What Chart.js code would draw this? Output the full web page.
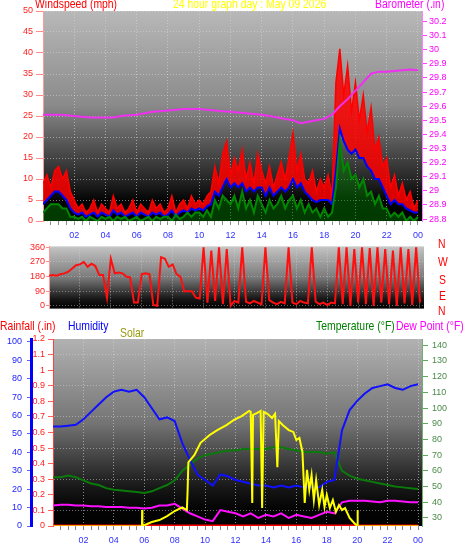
<!DOCTYPE html>
<html>
<head>
<meta charset="utf-8">
<script src="https://cdn.jsdelivr.net/npm/chart.js@4.4.1/dist/chart.umd.min.js"></script>
<style>
body { margin:0; background:#fff; width:470px; height:554px; overflow:hidden; position:relative; font-family:'Liberation Sans',Arial,sans-serif; }
canvas { position:absolute; left:0; }
.t { position:absolute; font-size:13px; white-space:nowrap; line-height:13px; transform:scaleX(0.8); transform-origin:left top; }
</style>
</head>
<body>
<canvas id="wind" width="470" height="245" style="top:0"></canvas>
<canvas id="dir" width="470" height="75" style="top:240px"></canvas>
<canvas id="temp" width="470" height="234" style="top:320px"></canvas>

<div class="t" style="left:35px;top:-3px;color:#ff0000">Windspeed (mph)</div>
<div class="t" style="left:173px;top:-3px;color:#ffff00">24 hour graph day : May 09 2026</div>
<div class="t" style="left:375px;top:-3px;color:#ff00ff">Barometer (.in)</div>

<div class="t" style="left:438px;top:237px;color:#ff0000">N</div>
<div class="t" style="left:438px;top:255px;color:#ff0000">W</div>
<div class="t" style="left:439px;top:273px;color:#ff0000">S</div>
<div class="t" style="left:439px;top:289px;color:#ff0000">E</div>
<div class="t" style="left:438px;top:304px;color:#ff0000">N</div>

<div class="t" style="left:0px;top:319px;color:#ff0000">Rainfall (.in)</div>
<div class="t" style="left:68px;top:319px;color:#0000ff">Humidity</div>
<div class="t" style="left:120px;top:326px;color:#9a9a10">Solar</div>
<div class="t" style="left:316px;top:319px;color:#008000">Temperature (°F)</div>
<div class="t" style="left:396px;top:319px;color:#ff00ff">Dew Point (°F)</div>

<script>
// ---- wind, every 15 minutes from 00:00 to 24:00 ----
const windGust = [
  9, 11, 8, 12,   13, 10, 12, 7,   5, 3, 4, 2,   3, 5, 2, 4,
  3, 2, 6, 3,     4, 2, 3, 5,      2, 4, 3, 2,   5, 3, 4, 2,
  3, 6, 2, 4,     5, 3, 6, 4,      5, 4, 6, 7,   13, 9, 16, 19,
  11, 15, 12, 17, 10, 14, 9, 16,   12, 9, 13, 8, 11, 14, 10, 15,
  21, 12, 16, 10, 9, 12, 7, 10,    8, 11, 6, 33, 41, 30, 37, 26,
  33, 24, 30, 21, 27, 17, 20, 13,  15, 8, 11, 6, 9, 5, 7, 3,
  5
];
const windAvg = [
  4, 5, 6, 7,       7, 6, 5, 3,       2, 1.5, 2, 1,     1.5, 2, 1, 2,
  1.5, 1, 2.5, 1.5, 2, 1, 1.5, 2,     1, 2, 1.5, 1,     2, 1.5, 2, 1,
  1.5, 2.5, 1, 2,   2.5, 2, 3, 2.5,   3, 2.5, 3.5, 4,   7, 6, 8, 10,
  8, 9, 8, 9,       7, 8, 7, 8,       8, 6, 8, 6,       7, 8, 7, 8,
  10, 8, 9, 7,      6, 5, 4.5, 5,     5, 5, 4, 12,      22, 19, 17, 16,
  17, 15, 15, 13,   12, 10, 10, 8,    6, 4, 5, 4,       4, 3, 2.5, 2,
  2
];
const windLow = [
  2, 3, 4, 4,       4, 3, 3, 1,       1, 0.5, 1, 0,     1, 0.5, 0, 1,
  0.5, 1, 0, 1,     0.5, 1, 0, 0.5,   1, 0, 0.5, 1,     0, 1, 0.5, 1,
  1, 0, 1.5, 0.5,   1, 2, 1, 2,       2, 1, 2.5, 1,     5, 3, 6, 5,
  4, 6, 3, 7,       3, 5, 2, 6,       4, 2, 5, 3,       4, 6, 3, 5,
  6, 3, 5, 2,       4, 2, 3, 1,       3, 1, 2, 8,       19, 12, 14, 10,
  11, 8, 10, 6,     7, 4, 6, 3,       3, 1, 2, 1,       2, 0, 1, 0,
  1
];
const windDir = [
  185, 190, 185, 195,  200, 210, 230, 250,  255, 270, 240, 260,  245, 190, 190, 50,
  290, 200, 205, 200,  180, 175, 20, 20,    195, 200, 195, 5,    0, 300, 290, 240,
  255, 195, 180, 90,   90, 90, 50, 45,      360, 20, 340, 30,    360, 10, 350, 0,
  30, 20, 360, 25,     15, 30, 20, 10,      360, 35, 20, 10,     25, 15, 360, 20,
  10, 30, 20, 15,      360, 25, 10, 20,     5, 20, 15, 360,      10, 360, 0, 350,
  20, 360, 10, 355,    0, 360, 20, 350,     10, 340, 0, 360,     15, 350, 5, 360,
  20
];

// ---- every 30 minutes from 00:00 to 24:00 ----
const barometer = [
  29.54, 29.54, 29.54, 29.535, 29.53, 29.525, 29.52, 29.52, 29.52, 29.52,
  29.53, 29.535, 29.54, 29.55, 29.56, 29.565, 29.57, 29.575, 29.58, 29.58,
  29.58, 29.575, 29.57, 29.565, 29.56, 29.555, 29.55, 29.545, 29.54, 29.53,
  29.52, 29.51, 29.50, 29.48, 29.49, 29.50, 29.51, 29.54, 29.60, 29.65,
  29.71, 29.77, 29.83, 29.845, 29.845, 29.85, 29.855, 29.86, 29.855
];
const humidity = [
  54, 54, 54.5, 55, 58, 62, 66, 70, 73, 74,
  73, 74, 70, 64, 58, 59, 57, 45, 36, 28,
  25, 22, 28, 27, 25, 24, 23, 22, 22, 21,
  22, 21, 22, 21, 21, 21, 24, 25, 52, 63,
  68, 72, 75, 76, 77, 75, 74, 76, 77
];
const temperature = [
  56, 56, 57, 56, 54, 52, 51, 49, 48, 47.5,
  47, 46.5, 46, 47, 49, 51, 54, 60, 64, 68,
  70, 71, 72, 73, 73, 74, 74, 74, 74, 75,
  75, 74, 73, 72, 72, 72, 71, 72, 60, 57,
  55, 54, 53, 52, 51, 50, 49.5, 49, 48.5
];
const dewPoint = [
  38, 38.5, 38.5, 38, 38, 37.5, 37.5, 37, 37, 37,
  36.5, 36.5, 36, 36.5, 38, 38, 39, 36, 33, 31,
  29, 28, 35, 34, 33, 31, 33, 30, 32, 31,
  33, 30, 32, 31, 30, 32, 34, 33, 40, 41,
  41, 41, 40.5, 40, 41, 41, 40.5, 40, 40
];
const rainfall = [
  0, 0, 0, 0, 0, 0, 0, 0, 0, 0, 0, 0, 0, 0, 0, 0, 0, 0, 0, 0, 0, 0, 0, 0, 0,
  0, 0, 0, 0, 0, 0, 0, 0, 0, 0, 0, 0, 0, 0, 0, 0, 0, 0, 0, 0, 0, 0, 0, 0
];

// solar radiation (W/m2) at irregular times
const solarTimes = [
  0, 5.85, 5.86, 5.88, 6.5, 7, 7.5, 8, 8.5, 8.8, 8.85, 8.9, 9.3, 9.7, 10.3, 10.8,
  11.4, 11.9, 12.4, 12.9, 13.0, 13.1, 13.15, 13.4, 13.65, 13.75, 13.85, 14.1, 14.4,
  14.6, 14.75, 14.85, 15.1, 15.5, 15.8, 16.0, 16.2, 16.4, 16.55, 16.7, 16.85, 17.0,
  17.15, 17.3, 17.5, 17.7, 17.85, 18.0, 18.2, 18.4, 18.6, 18.8, 19.0, 19.2, 19.5,
  19.8, 20.0, 20.02, 20.04, 24
];
const solar = [
  0, 0, 85, 0, 21, 32, 53, 80, 100, 85, 190, 340, 380, 445, 487, 513,
  540, 567, 588, 615, 610, 123, 594, 604, 615, 96, 610, 600, 578,
  600, 315, 561, 540, 513, 503, 460, 471, 396, 123, 300, 193, 273,
  139, 246, 112, 193, 102, 166, 96, 139, 75, 112, 85, 96, 43,
  16, 0, 85, 0, 0
];

const windTicks = [0, 5, 10, 15, 20, 25, 30, 35, 40, 45, 50];
const baroTicks = [28.8, 28.9, 29, 29.1, 29.2, 29.3, 29.4, 29.5, 29.6, 29.7, 29.8, 29.9, 30, 30.1, 30.2];
const dirTicks = [0, 90, 180, 270, 360];
const humTicks = [0, 10, 20, 30, 40, 50, 60, 70, 80, 90, 100];
const rainTicks = [0, 0.1, 0.2, 0.3, 0.4, 0.5, 0.6, 0.7, 0.8, 0.9, 1, 1.1, 1.2];
const tempTicks = [30, 40, 50, 60, 70, 80, 90, 100, 110, 120, 130, 140];

const t15 = windGust.map((_, i) => i / 4);
const t30 = barometer.map((_, i) => i / 2);
const hourTicks = Array.from({length: 48}, (_, i) => (i + 1) / 2);
const xy = (xs, ys) => ys.map((v, i) => ({x: xs[i], y: v}));
const fmt = v => String(Number(v.toFixed(1)));
const tickFont = {family: "'Liberation Sans',Arial", size: 9};
const fixTicks = list => s => { s.ticks = list.map(v => ({value: v})); };

const bgPlugin = {
  id: 'bg',
  beforeDraw(chart, args, opts) {
    const {ctx, chartArea: a} = chart;
    const g = ctx.createLinearGradient(0, a.top, 0, a.bottom);
    opts.stops.forEach(s => g.addColorStop(s[0], s[1]));
    ctx.save();
    ctx.fillStyle = g;
    ctx.fillRect(a.left, a.top, a.right - a.left, a.bottom - a.top);
    ctx.restore();
  }
};

function hourAxis(showLabels, height) {
  return {
    type: 'linear', min: 0, max: 24.26,
    afterBuildTicks: fixTicks(hourTicks),
    afterFit: s => { s.height = height; },
    grid: {
      color: c => (c.tick && c.tick.value % 2 === 0) ? 'rgba(215,215,215,0.6)' : 'rgba(0,0,0,0)',
      tickColor: '#8c8c8c', tickLength: 4, drawTicks: showLabels
    },
    border: {display: false, dash: [1, 2]},
    ticks: {
      display: showLabels, autoSkip: false, maxRotation: 0, padding: 5,
      color: '#3030ff', font: tickFont,
      callback: v => v % 2 === 0 ? String(v % 24).padStart(2, '0') : ''
    }
  };
}

const common = {
  responsive: false,
  animation: false,
  elements: {point: {radius: 0}, line: {tension: 0, borderJoinStyle: 'miter'}},
  plugins: {legend: {display: false}, tooltip: {enabled: false}}
};

// windspeed + barometer
new Chart(document.getElementById('wind'), {
  type: 'line',
  data: {
    datasets: [
      {label: 'Barometer', data: xy(t30, barometer), yAxisID: 'baro', borderColor: '#f030f0', borderWidth: 2},
      {label: 'Wind low', data: xy(t15, windLow), yAxisID: 'y', borderColor: '#008800', borderWidth: 2,
        fill: 'origin', backgroundColor: 'rgba(0,128,0,0.45)'},
      {label: 'Wind avg', data: xy(t15, windAvg), yAxisID: 'y', borderColor: '#0000ff', borderWidth: 2},
      {label: 'Wind gust', data: xy(t15, windGust), yAxisID: 'y', borderColor: '#ff0000', borderWidth: 1.5,
        fill: 2, backgroundColor: 'rgba(255,0,0,0.85)'}
    ]
  },
  options: {
    ...common,
    layout: {padding: {top: 11, left: 0, right: 0, bottom: 0}},
    plugins: {...common.plugins, bg: {stops: [[0, '#b8b8b8'], [0.45, '#8a8a8a'], [0.8, '#262626'], [0.9, '#050505'], [1, '#000']]}},
    scales: {
      x: hourAxis(true, 24),
      y: {
        position: 'left', min: 0, max: 50,
        afterBuildTicks: fixTicks(windTicks),
        afterFit: s => { s.width = 43; },
        grid: {color: 'rgba(215,215,215,0.55)', tickColor: '#ff8c8c', tickLength: 7},
        border: {display: true, color: '#ff9a9a', width: 1, dash: [1, 2]},
        ticks: {color: '#ff2020', font: tickFont, padding: 3}
      },
      baro: {
        position: 'right', min: 28.786, max: 30.275,
        afterBuildTicks: fixTicks(baroTicks),
        afterFit: s => { s.width = 48; },
        grid: {drawOnChartArea: false, tickColor: '#ff40ff', tickLength: 5},
        border: {display: true, color: '#ff80ff', width: 1},
        ticks: {color: '#ff00ff', font: tickFont, padding: 2, callback: v => fmt(v)}
      }
    }
  },
  plugins: [bgPlugin]
});

// wind direction
new Chart(document.getElementById('dir'), {
  type: 'line',
  data: {
    datasets: [
      {label: 'Direction', data: xy(t15, windDir), yAxisID: 'y', borderColor: '#ff1010', borderWidth: 2}
    ]
  },
  options: {
    ...common,
    layout: {padding: {top: 6, left: 0, right: 0, bottom: 2}},
    plugins: {...common.plugins, bg: {stops: [[0, '#c4c4c4'], [0.5, '#7a7a7a'], [0.85, '#151515'], [1, '#000']]}},
    scales: {
      x: hourAxis(false, 0),
      y: {
        position: 'left', min: -17, max: 366,
        afterBuildTicks: fixTicks(dirTicks),
        afterFit: s => { s.width = 49; },
        grid: {color: 'rgba(215,215,215,0.45)', tickColor: '#ff8c8c', tickLength: 3},
        border: {display: true, color: '#ff9a9a', width: 1, dash: [1, 2]},
        ticks: {color: '#ff2020', font: tickFont, padding: 1}
      },
      r: {
        position: 'right', min: -17, max: 366,
        afterFit: s => { s.width = 46; },
        grid: {display: false},
        border: {display: false},
        ticks: {display: false}
      }
    }
  },
  plugins: [bgPlugin]
});

// rainfall, humidity, solar, temperature, dew point
new Chart(document.getElementById('temp'), {
  type: 'line',
  data: {
    datasets: [
      {
        label: 'Solar', data: xy(solarTimes, solar), yAxisID: 'sol', borderColor: '#ffff00', borderWidth: 2,
        segment: {borderColor: c => (c.p0.parsed.y === 0 && c.p1.parsed.y === 0) ? '#ff9c00' : undefined}
      },
      {label: 'Humidity', data: xy(t30, humidity), yAxisID: 'hum', borderColor: '#1010ff', borderWidth: 2},
      {label: 'Temperature', data: xy(t30, temperature), yAxisID: 'temp', borderColor: '#0a7a0a', borderWidth: 2},
      {label: 'Dew Point', data: xy(t30, dewPoint), yAxisID: 'temp', borderColor: '#ff10ff', borderWidth: 2},
      {label: 'Rainfall', data: xy(t30, rainfall), yAxisID: 'rain', borderColor: '#ff0000', borderWidth: 3}
    ]
  },
  options: {
    ...common,
    layout: {padding: {top: 19, left: 0, right: 0, bottom: 0}},
    plugins: {...common.plugins, bg: {stops: [[0, '#b2b2b2'], [0.45, '#747474'], [0.8, '#161616'], [0.9, '#050505'], [1, '#000']]}},
    scales: {
      x: hourAxis(true, 28),
      hum: {
        position: 'left', weight: 1, min: 0, max: 101.6,
        afterBuildTicks: fixTicks(humTicks),
        afterFit: s => { s.width = 31; },
        grid: {drawOnChartArea: false, tickColor: '#6060ff', tickLength: 4},
        border: {display: true, color: '#0000ff', width: 3},
        ticks: {color: '#2020ff', font: tickFont, padding: 5}
      },
      rain: {
        position: 'left', weight: 0, min: 0, max: 1.2,
        afterBuildTicks: fixTicks(rainTicks),
        afterFit: s => { s.width = 22; },
        grid: {
          color: c => (c.tick && Math.round(c.tick.value * 10) % 2 === 1) ? 'rgba(215,215,215,0.5)' : 'rgba(0,0,0,0)',
          tickColor: '#ff6060', tickLength: 5
        },
        border: {display: true, color: '#ff4040', width: 1, dash: [1, 2]},
        ticks: {color: '#ff2020', font: tickFont, padding: 3, callback: v => fmt(v)}
      },
      temp: {
        position: 'right', min: 24.9, max: 144,
        afterBuildTicks: fixTicks(tempTicks),
        afterFit: s => { s.width = 48; },
        grid: {drawOnChartArea: false, tickColor: '#60a860', tickLength: 6},
        border: {display: true, color: '#70b070', width: 1},
        ticks: {color: '#4a8a4a', font: tickFont, padding: 4}
      },
      sol: {display: false, min: 0, max: 1000}
    }
  },
  plugins: [bgPlugin]
});
</script>
</body>
</html>
